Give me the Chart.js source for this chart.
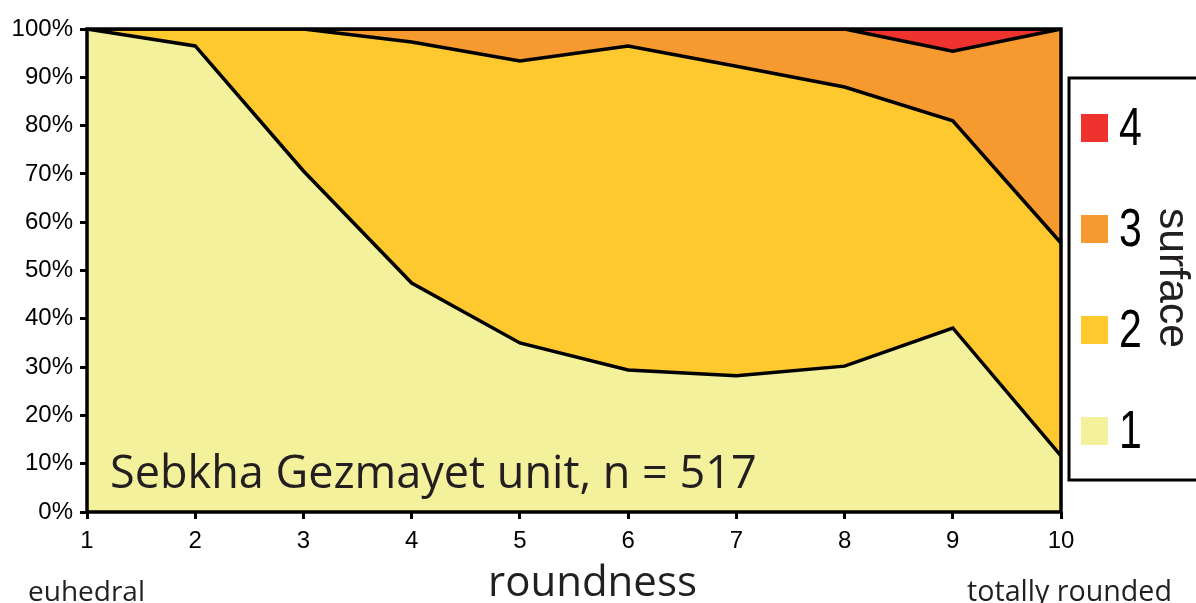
<!DOCTYPE html>
<html>
<head>
<meta charset="utf-8">
<script src="https://cdn.jsdelivr.net/npm/chart.js@4"></script>
<style>
  html, body { margin: 0; padding: 0; background: #fff; }
  #wrap { width: 1196px; height: 603px; }
</style>
</head>
<body>
<div id="wrap"><canvas id="myChart" width="1196" height="603"></canvas></div>
<script>
// roundness classes 1..10, share of grains per surface class (%)
var roundness = ['1', '2', '3', '4', '5', '6', '7', '8', '9', '10'];
var surface1 = [100, 96.5, 70.6, 47.4, 35.0, 29.4, 28.2, 30.2, 38.1, 11.6];
var surface2 = [0, 3.5, 29.4, 49.9, 58.4, 67.1, 64.1, 57.8, 42.9, 44.1];
var surface3 = [0, 0, 0, 2.7, 6.6, 3.5, 7.7, 12.0, 14.4, 44.3];
var surface4 = [0, 0, 0, 0, 0, 0, 0, 0, 4.6, 0];
var yTicks = [0, 10, 20, 30, 40, 50, 60, 70, 80, 90, 100];
var legendLabels = ['4', '3', '2', '1'];

var colors = {
    s1: '#f3f19b',
    s2: '#fdc92f',
    s3: '#f6992f',
    s4: '#ee332f'
};
var textColor = '#231f20';
var sans = '"Liberation Sans", Arial, sans-serif';

function fitText(ctx, text, family, width) {
    ctx.font = '100px ' + family;
    var w = ctx.measureText(text).width;
    ctx.font = (100 * width / w) + 'px ' + family;
}

var extras = {
    id: 'extras',
    beforeDraw: function (chart) {
        var ctx = chart.ctx;
        ctx.save();
        ctx.fillStyle = '#fff';
        ctx.fillRect(0, 0, chart.width, chart.height);
        ctx.restore();
    },
    afterDatasetsDraw: function (chart) {
        var ctx = chart.ctx;
        var a = chart.chartArea;
        ctx.save();
        // frame
        ctx.strokeStyle = '#000';
        ctx.lineWidth = 3.5;
        ctx.beginPath();
        ctx.moveTo(a.left, a.bottom);
        ctx.lineTo(a.left, a.top);
        ctx.lineTo(a.right, a.top);
        ctx.lineTo(a.right, a.bottom);
        ctx.closePath();
        ctx.stroke();

        ctx.fillStyle = textColor;
        ctx.textBaseline = 'alphabetic';
        ctx.textAlign = 'left';
        fitText(ctx, 'Sebkha Gezmayet unit, n = 517', '"Open Sans"', 647);
        ctx.fillText('Sebkha Gezmayet unit, n = 517', 110, 488);
        ctx.restore();
    },
    afterDraw: function (chart) {
        var ctx = chart.ctx;
        ctx.save();
        ctx.fillStyle = textColor;
        ctx.textBaseline = 'alphabetic';
        ctx.textAlign = 'left';
        fitText(ctx, 'roundness', '"Open Sans"', 209);
        ctx.fillText('roundness', 488, 596);
        fitText(ctx, 'euhedral', '"Open Sans"', 117);
        ctx.fillText('euhedral', 28, 601);
        fitText(ctx, 'totally rounded', '"Open Sans"', 205);
        ctx.fillText('totally rounded', 967, 601);

        // legend box
        ctx.strokeStyle = '#000';
        ctx.lineWidth = 3;
        ctx.strokeRect(1069, 78, 140, 402);
        var legendColors = [colors.s4, colors.s3, colors.s2, colors.s1];
        var centers = [128, 229, 330, 431];
        for (var i = 0; i < legendLabels.length; i++) {
            ctx.fillStyle = legendColors[i];
            ctx.fillRect(1081, centers[i] - 14, 27, 28);
            ctx.save();
            ctx.translate(1119, centers[i] + 2);
            ctx.scale(0.76, 1);
            ctx.fillStyle = '#000';
            ctx.font = '54px ' + sans;
            ctx.textBaseline = 'middle';
            ctx.fillText(legendLabels[i], 0, 0);
            ctx.restore();
        }
        ctx.translate(1172, 278);
        ctx.rotate(Math.PI / 2);
        ctx.textAlign = 'center';
        ctx.textBaseline = 'middle';
        ctx.fillStyle = textColor;
        fitText(ctx, 'surface', sans, 140);
        ctx.fillText('surface', 0, 0);
        ctx.restore();
    }
};

var ctx = document.getElementById('myChart').getContext('2d');
var myChart = new Chart(ctx, {
    type: 'line',
    data: {
        labels: roundness,
        datasets: [
            { label: '1', data: surface1, backgroundColor: colors.s1, fill: 'origin' },
            { label: '2', data: surface2, backgroundColor: colors.s2, fill: '-1' },
            { label: '3', data: surface3, backgroundColor: colors.s3, fill: '-1' },
            { label: '4', data: surface4, backgroundColor: colors.s4, fill: '-1' }
        ]
    },
    options: {
        responsive: false,
        animation: false,
        layout: { padding: { top: 29, right: 135, left: 0, bottom: 0 } },
        elements: {
            line: { borderColor: '#000', borderWidth: 3.5, tension: 0 },
            point: { radius: 0, hoverRadius: 0 }
        },
        plugins: {
            legend: { display: false },
            tooltip: { enabled: false },
            filler: { propagate: false }
        },
        scales: {
            x: {
                offset: false,
                grid: { drawOnChartArea: false, color: '#000', lineWidth: 3, tickLength: 7, tickWidth: 3 },
                border: { display: false },
                ticks: {
                    color: '#000',
                    padding: 8,
                    maxRotation: 0,
                    font: { family: sans, size: 24 }
                },
                afterFit: function (scale) { scale.height = 91; }
            },
            y: {
                stacked: true,
                min: 0,
                max: 100,
                afterBuildTicks: function (scale) {
                    scale.ticks = yTicks.map(function (v) { return { value: v }; });
                },
                grid: { drawOnChartArea: false, color: '#000', lineWidth: 3, tickLength: 7, tickWidth: 3 },
                border: { display: false },
                ticks: {
                    color: '#000',
                    padding: 7,
                    font: { family: sans, size: 24 },
                    callback: function (v) { return v + '%'; }
                },
                afterFit: function (scale) { scale.width = 87; }
            }
        }
    },
    plugins: [extras]
});
</script>
</body>
</html>
